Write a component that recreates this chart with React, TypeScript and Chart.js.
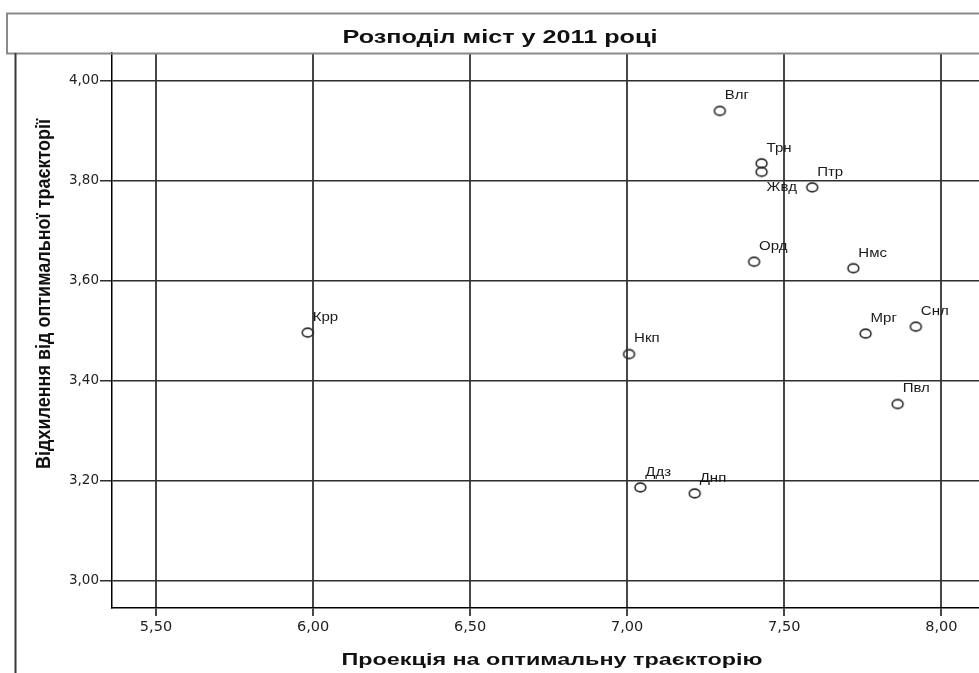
import React, { useEffect, useRef } from "react";
import { Chart, registerables } from "chart.js";

Chart.register(...registerables);

// ---- data ----
const CITY_LABELS = ["Крр", "Нкп", "Влг", "Трн", "Жвд", "Птр", "Орд", "Нмс", "Мрг", "Снл", "Пвл", "Ддз", "Днп"];
const X_VALUES = [5.983, 7.006, 7.295, 7.428, 7.428, 7.589, 7.404, 7.72, 7.759, 7.919, 7.861, 7.042, 7.215];
const Y_VALUES = [3.496, 3.453, 3.94, 3.835, 3.818, 3.787, 3.638, 3.625, 3.494, 3.508, 3.353, 3.186, 3.174];
const X_TICKS = [5.5, 6.0, 6.5, 7.0, 7.5, 8.0];
const Y_TICKS = [3.0, 3.2, 3.4, 3.6, 3.8, 4.0];
const TITLE = "Розподіл міст у 2011 році";
const X_TITLE = "Проекція на оптимальну траєкторію";
const Y_TITLE = "Відхилення від оптимальної траєкторії";

// ---- style ----
const W = 979;
const H = 673;
const LABEL_FONT = '12px "Liberation Sans", Arial, sans-serif';
const LABEL_STRETCH = 1.25;
const DEFAULT_LABEL_OFFSET = { dx: 5, dy: -15 };
const SPECIAL_LABEL_OFFSET: Record<string, { dx: number; dy: number }> = {
  "Жвд": { dx: 5, dy: 16 },
};

const fmt = (v: number) => v.toFixed(2).replace(".", ",");

function makeMarker(): HTMLCanvasElement {
  const c = document.createElement("canvas");
  c.width = 15;
  c.height = 13;
  const g = c.getContext("2d")!;
  g.beginPath();
  g.ellipse(7.5, 6.5, 5.4, 4.4, 0, 0, Math.PI * 2);
  g.strokeStyle = "#2a2a2a";
  g.lineWidth = 1.6;
  g.stroke();
  return c;
}

function fitText(
  ctx: CanvasRenderingContext2D,
  text: string,
  x: number,
  y: number,
  font: string,
  targetWidth: number,
  perpScale: number,
  rotate: boolean,
  color: string
) {
  ctx.save();
  ctx.font = font;
  const w = ctx.measureText(text).width;
  const s = targetWidth / w;
  ctx.translate(x, y);
  if (rotate) ctx.rotate(-Math.PI / 2);
  ctx.scale(s, perpScale);
  ctx.textAlign = "center";
  ctx.textBaseline = "alphabetic";
  ctx.fillStyle = color;
  ctx.fillText(text, 0, 0);
  ctx.restore();
}

const framePlugin = {
  id: "frame",
  beforeDraw(chart: any) {
    const ctx = chart.ctx;
    ctx.save();
    ctx.fillStyle = "#fff";
    ctx.fillRect(0, 0, chart.width, chart.height);
    ctx.restore();
  },
  afterDraw(chart: any) {
    const ctx: CanvasRenderingContext2D = chart.ctx;
    ctx.save();
    // title box
    ctx.strokeStyle = "#8a8a8a";
    ctx.lineWidth = 2;
    ctx.strokeRect(7, 13.5, 1000, 40);
    // left outer frame line
    ctx.strokeStyle = "#3a3a3a";
    ctx.lineWidth = 2;
    ctx.beginPath();
    ctx.moveTo(15.5, 53);
    ctx.lineTo(15.5, H);
    ctx.stroke();
    ctx.restore();

    fitText(ctx, TITLE, 500, 43, 'bold 18px "Liberation Sans", Arial, sans-serif', 315, 1, false, "#111");
    fitText(ctx, X_TITLE, 552, 665, 'bold 17px "Liberation Sans", Arial, sans-serif', 421, 1, false, "#111");
    fitText(ctx, Y_TITLE, 50, 294, 'bold 16px "Liberation Sans", Arial, sans-serif', 350, 1.3, true, "#111");
  },
};

const labelPlugin = {
  id: "pointLabels",
  afterDatasetsDraw(chart: any) {
    const ctx: CanvasRenderingContext2D = chart.ctx;
    const meta = chart.getDatasetMeta(0);
    meta.data.forEach((el: any, i: number) => {
      const name = CITY_LABELS[i];
      const off = SPECIAL_LABEL_OFFSET[name] || DEFAULT_LABEL_OFFSET;
      ctx.save();
      ctx.font = LABEL_FONT;
      ctx.fillStyle = "#1a1a1a";
      ctx.textAlign = "left";
      ctx.textBaseline = "middle";
      ctx.translate(el.x + off.dx, el.y + off.dy);
      ctx.scale(LABEL_STRETCH, 1);
      ctx.fillText(name, 0, 0);
      ctx.restore();
    });
  },
};

export default function App() {
  const ref = useRef<HTMLCanvasElement | null>(null);

  useEffect(() => {
    if (!ref.current) return;
    const marker = makeMarker();
    const points = X_VALUES.map((x, i) => ({ x, y: Y_VALUES[i] }));
    const chart = new Chart(ref.current, {
      type: "scatter",
      data: {
        datasets: [
          {
            label: "Міста",
            data: points,
            pointStyle: marker as any,
            pointRadius: 6,
            pointHoverRadius: 6,
          },
        ],
      },
      options: {
        animation: false,
        responsive: false,
        devicePixelRatio: 1,
        layout: { autoPadding: false, padding: { top: 53, left: 0, right: 0, bottom: 0 } },
        plugins: {
          legend: { display: false },
          tooltip: { enabled: false },
          title: { display: false },
        },
        scales: {
          x: {
            type: "linear",
            min: 5.36,
            max: 8.12,
            afterBuildTicks: (scale: any) => {
              scale.ticks = X_TICKS.map((v) => ({ value: v }));
            },
            afterFit: (scale: any) => {
              scale.height = 65;
              scale.paddingLeft = 0;
              scale.paddingRight = 0;
            },
            grid: {
              color: "#474747",
              lineWidth: 2,
              tickLength: 8,
              tickColor: "#474747",
              tickWidth: 2,
            },
            border: { display: true, color: "#000", width: 1.5 },
            ticks: {
              callback: (v: any) => fmt(Number(v)),
              color: "#222",
              padding: 3,
              maxRotation: 0,
              autoSkip: false,
              font: { family: '"DejaVu Sans", sans-serif', size: 14.5 },
            },
          },
          y: {
            type: "linear",
            min: 2.9445,
            max: 4.056,
            afterBuildTicks: (scale: any) => {
              scale.ticks = Y_TICKS.map((v) => ({ value: v }));
            },
            afterFit: (scale: any) => {
              scale.width = 112;
              scale.paddingTop = 0;
              scale.paddingBottom = 0;
            },
            grid: {
              color: "#2e2e2e",
              lineWidth: 1.5,
              tickLength: 12,
              tickColor: "#2e2e2e",
              tickWidth: 1.5,
            },
            border: { display: true, color: "#000", width: 1.5 },
            ticks: {
              callback: (v: any) => fmt(Number(v)),
              color: "#222",
              padding: 1,
              autoSkip: false,
              font: { family: '"DejaVu Sans", sans-serif', size: 13.5 },
            },
          },
        },
      },
      plugins: [framePlugin, labelPlugin],
    });
    return () => chart.destroy();
  }, []);

  return (
    <div style={{ position: "absolute", left: 0, top: 0, width: W, height: H, background: "#fff" }}>
      <canvas ref={ref} width={W} height={H} style={{ display: "block" }} />
    </div>
  );
}
